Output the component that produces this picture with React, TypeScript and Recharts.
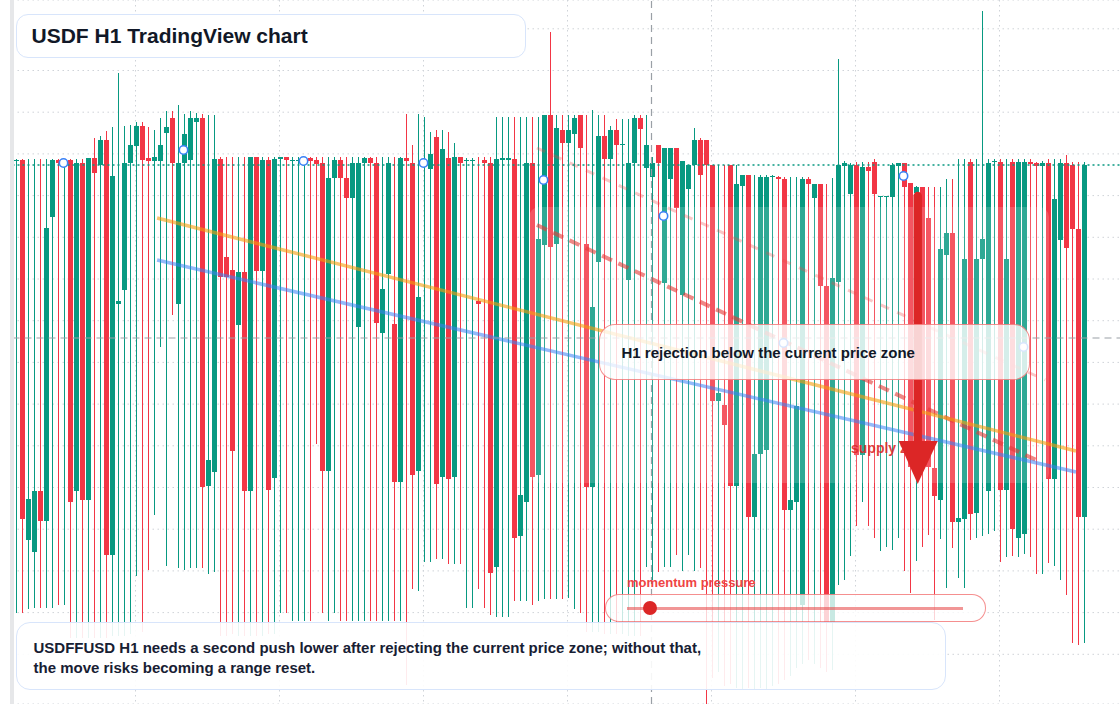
import React from 'react';
import {
  ComposedChart, Bar, Line, XAxis, YAxis, CartesianGrid, ReferenceLine, ReferenceArea
} from 'recharts';

// USDF/USD hourly candles
const OPEN = [
  1.00039, 1.0004, 0.9966, 0.99648, 0.99709, 0.99679, 0.99983, 1.0004, 1.00038, 1.0004,
  0.99709, 1.00037, 0.997, 1.00042, 1.00035, 1.0006, 0.99645, 0.99896, 0.9991, 1.00037,
  1.00054, 1.00074, 1.00042, 1.00039, 1.00039, 1.00067, 1.00082, 0.99896, 1.00037, 1.0004,
  1.00078, 1.00082, 0.99714, 0.99728, 1.00041, 0.99943, 0.9993, 0.99875, 0.99928, 0.99709,
  1.00043, 0.99929, 1.0004, 0.99722, 1.00041, 1.00043, 1.00039, 1.00039, 1.00039, 1.00042,
  1.0004, 1.00037, 0.99729, 1.00022, 1.0004, 1.00022, 1.00002, 0.99873, 1.00037, 1.00042,
  1.00037, 0.99867, 0.99926, 0.99876, 0.99718, 1.00042, 1.00037, 0.99729, 1.00037, 1.00031,
  1.00063, 0.99723, 1.00042, 0.99723, 1.00043, 1.00039, 1.00039, 0.99899, 1.0004, 1.00037,
  0.99633, 1.0004, 1.0004, 1.00041, 0.99664, 0.99698, 1.00037, 0.99725, 0.99955, 1.00085,
  0.99956, 1.0007, 1.00057, 1.00066, 1.00085, 0.99956, 0.99713, 0.99938, 1.00064, 1.00041,
  1.0007, 1.00055, 0.9992, 1.00037, 1.00082, 1.00032, 1.00023, 1.00055, 0.99917, 1.00021,
  1.00052, 0.99905, 1.00011, 1.00035, 1.0006, 1.0006, 1.00035, 0.99799, 0.99795, 1.00035,
  0.99714, 1.00014, 1.00025, 0.99683, 0.99746, 0.9975, 1.00023, 1.00023, 1.00021, 0.9969,
  0.99698, 0.99595, 1.00021, 1.00002, 1.00016, 0.99914, 0.99578, 0.99918, 1.00034, 1.00006,
  1.00035, 0.99745, 1.00033, 1.00038, 1.00003, 1.00003, 1.00003, 1.00034, 1.00037, 1.00017,
  1.00007, 1.00013, 0.99982, 0.99732, 0.997, 0.99945, 0.99967, 0.99678, 0.99681, 1.00038,
  0.99687, 0.99941, 0.99709, 1.00038, 1.00038, 0.9971, 1.00038, 0.99662, 0.99666, 1.00038,
  1.00037, 1.00034, 1.00037, 0.99721, 0.9996, 1.00037, 1.00035, 0.99971, 0.99683,
];

const HIGH = [
  1.00041, 1.00041, 1.00041, 1.00041, 1.00041, 1.00041, 1.00041, 1.00041, 1.00041, 1.00041,
  1.00041, 1.00041, 1.00042, 1.00062, 1.00064, 1.00069, 1.00073, 1.00127, 1.00074, 1.00075,
  1.00078, 1.00078, 1.00073, 1.0007, 1.00082, 1.00089, 1.00089, 1.00095, 1.00086, 1.00089,
  1.00087, 1.00086, 1.00085, 1.00085, 1.00043, 1.00043, 1.00043, 1.00043, 1.00043, 1.00043,
  1.00043, 1.00043, 1.00043, 1.00043, 1.00043, 1.00043, 1.00043, 1.00043, 1.00043, 1.00043,
  1.00043, 1.00043, 1.00043, 1.00043, 1.00043, 1.00043, 1.00043, 1.00043, 1.00043, 1.00043,
  1.00043, 1.00043, 1.00043, 1.00043, 1.00043, 1.00086, 1.00055, 1.00086, 1.00083, 1.00068,
  1.0007, 1.0007, 1.00068, 1.00057, 1.00043, 1.00042, 1.00042, 1.00043, 1.00043, 1.00043,
  1.00083, 1.00083, 1.00083, 1.00083, 1.00083, 1.00083, 1.00083, 1.00083, 1.00085, 1.00168,
  1.00085, 1.00085, 1.00085, 1.00085, 1.00085, 1.00085, 1.0009, 1.00085, 1.00085, 1.00074,
  1.00081, 1.00081, 1.00081, 1.00085, 1.00085, 1.00085, 1.00043, 1.00055, 1.00052, 1.00052,
  1.00052, 1.00039, 1.00035, 1.00072, 1.00062, 1.0006, 1.00035, 1.00035, 1.00035, 1.00035,
  1.00035, 1.00025, 1.00025, 1.00025, 1.00025, 1.00025, 1.00025, 1.00024, 1.00023, 1.00023,
  1.00023, 1.00023, 1.00023, 1.00016, 1.00016, 1.00016, 1.00022, 1.00141, 1.00039, 1.00037,
  1.00038, 1.00038, 1.00038, 1.00041, 1.00004, 1.00004, 1.00037, 1.00037, 1.00037, 1.00017,
  1.00014, 1.00013, 1.00013, 1.00013, 1.00013, 1.00021, 1.00021, 1.00041, 1.00041, 1.00041,
  1.00041, 1.00189, 1.00041, 1.00041, 1.00041, 1.00041, 1.00041, 1.00041, 1.00041, 1.00041,
  1.00038, 1.00039, 1.00041, 1.00041, 1.00041, 1.00045, 1.00038, 1.00038, 1.00038,
];

const LOW = [
  0.99587, 0.99587, 0.99591, 0.99592, 0.99592, 0.99592, 0.99592, 0.99595, 0.99595, 0.99562,
  0.99562, 0.99562, 0.99562, 0.99562, 0.99562, 0.99562, 0.99564, 0.99564, 0.99564, 0.99566,
  0.99624, 0.99568, 0.9963, 0.99685, 0.99853, 0.99634, 0.99885, 0.99632, 0.9963, 0.99632,
  0.99632, 0.99632, 0.99626, 0.99628, 0.99564, 0.99564, 0.99566, 0.99564, 0.99564, 0.99564,
  0.99564, 0.99564, 0.99566, 0.99566, 0.99587, 0.99587, 0.99579, 0.99579, 0.99579, 0.99579,
  0.99756, 0.99587, 0.99579, 0.99587, 0.99579, 0.99579, 0.99579, 0.99579, 0.99579, 0.99579,
  0.99579, 0.99579, 0.99579, 0.99579, 0.99579, 0.99515, 0.99611, 0.99609, 0.99638, 0.99638,
  0.99641, 0.99641, 0.99636, 0.99636, 0.99636, 0.99592, 0.99592, 0.99611, 0.99592, 0.99585,
  0.99583, 0.99583, 0.99583, 0.99599, 0.99599, 0.99599, 0.99595, 0.99599, 0.99601, 0.99601,
  0.99601, 0.99601, 0.99602, 0.99591, 0.99587, 0.99568, 0.99568, 0.99568, 0.99566, 0.99566,
  0.99566, 0.99566, 0.99564, 0.99564, 0.99564, 0.99633, 0.9962, 0.99628, 0.99633, 0.99633,
  0.99645, 0.99629, 0.99645, 0.99629, 0.99632, 0.99488, 0.99522, 0.99528, 0.99514, 0.99516,
  0.99512, 0.9951, 0.99512, 0.9951, 0.99512, 0.9951, 0.99514, 0.99516, 0.9952, 0.99524,
  0.99532, 0.99536, 0.9954, 0.99536, 0.99532, 0.99528, 0.9953, 0.99615, 0.9962, 0.99644,
  0.99674, 0.99698, 0.99674, 0.99662, 0.99649, 0.99653, 0.9965, 0.99662, 0.99629, 0.99607,
  0.99639, 0.99653, 0.99665, 0.9958, 0.99661, 0.99612, 0.99652, 0.99622, 0.99612, 0.9966,
  0.99662, 0.99664, 0.99666, 0.99669, 0.99638, 0.99643, 0.99644, 0.99643, 0.99646, 0.99643,
  0.99626, 0.99626, 0.99637, 0.99634, 0.9962, 0.99605, 0.99557, 0.99555, 0.99557,
];

const CLOSE = [
  1.0004, 0.99681, 0.99701, 0.99709, 0.99679, 0.99972, 1.0004, 1.00037, 1.00039, 0.99698,
  1.00037, 0.997, 1.00042, 1.00027, 1.0006, 0.99645, 1.00024, 0.99899, 1.00037, 1.00055,
  1.00074, 1.0004, 1.00039, 1.00043, 1.00055, 1.00073, 1.00037, 1.00037, 1.00066, 1.00082,
  1.00082, 0.99713, 0.9974, 1.00041, 0.99923, 0.99923, 0.99749, 0.99928, 0.99709, 1.00043,
  0.99929, 1.0004, 0.9971, 1.00041, 1.00043, 1.0004, 1.0004, 1.0004, 1.0004, 1.00039,
  1.00036, 0.99729, 1.00022, 1.0004, 1.00022, 1.00002, 1.00037, 1.00037, 1.00042, 1.00037,
  0.99877, 0.99911, 1.00037, 0.99718, 1.00042, 1.00039, 0.99725, 0.99903, 1.00038, 1.00046,
  0.99716, 1.00051, 0.99721, 1.00043, 1.00037, 1.0004, 1.0004, 0.99896, 1.00037, 0.99627,
  1.00041, 1.00042, 1.00042, 0.99662, 0.99705, 1.00037, 0.99723, 0.99961, 1.00085, 0.99953,
  1.00072, 1.00057, 1.0007, 1.00082, 1.00052, 0.99713, 0.99893, 1.00064, 1.00041, 1.0007,
  1.00055, 1.00056, 1.00037, 1.00082, 1.00071, 1.00055, 1.00037, 1.00037, 1.00052, 1.00052,
  0.99992, 1.00039, 1.00035, 1.0006, 1.00025, 1.00035, 0.99799, 0.99807, 0.99775, 0.99714,
  1.00016, 1.00025, 0.99683, 0.99746, 1.00023, 1.00023, 1.00024, 1.00021, 0.9969, 0.997,
  0.99794, 1.00021, 1.00016, 1.00016, 0.99914, 0.99578, 0.99922, 1.00035, 1.00037, 1.00035,
  0.99745, 1.00033, 1.00029, 1.00006, 1.00004, 1.00004, 1.00035, 1.00037, 1.00013, 0.99733,
  1.00013, 0.99736, 0.99733, 0.99704, 0.99951, 0.99967, 0.99678, 0.99682, 0.99941, 0.99686,
  0.99941, 0.99961, 1.00037, 1.00039, 0.9971, 0.99941, 0.99671, 1.00038, 1.00038, 1.00036,
  1.00034, 1.00037, 0.99721, 1.00001, 1.00037, 0.99952, 0.99971, 0.99683, 1.00035,
];

// empty hourly slots to the right of the last candle
const RIGHT_SLOTS = 6;
const START_UTC = Date.UTC(2024, 4, 6, 0);

// blue ring markers
const MARKER_BARS = [8, 28, 48, 68, 88, 108, 128, 148, 168];
const MARKER_PRICES = [1.00037, 1.0005, 1.00039, 1.00037, 1.0002, 0.99984, 0.99857, 1.00024, 0.99853];

// drawn levels: [bar, price] start and end
const TREND_ORANGE = [[23.6, 0.99982], [176.75, 0.99749]];
const TREND_BLUE = [[23.6, 0.9994], [176.75, 0.99728]];
const CHANNEL_SOLID = [[86.9, 0.99975], [170.1, 0.9974]];
const CHANNEL_FAINT = [[86.9, 1.00052], [171.6, 0.9982]];
const ZONE_BARS = [85.6, 172.25];
const ZONE_PRICES = [0.99717, 0.99993];
const CROSS_BAR = 106;
const CROSS_PRICE = 0.99862;

const GRID_BARS = [20, 44, 68, 92, 116, 140, 164];
const PRICE_TICKS = [
  0.99504, 0.995457, 0.995874, 0.996291, 0.996708, 0.997125, 0.997542, 0.997959, 0.998376,
  0.998793, 0.99921, 0.999627, 1.000044, 1.000461, 1.000878, 1.001295, 1.001712,
];
const PRICE_DOMAIN = [0.99496, 1.002];

const GREEN = '#089981';
const RED = '#f23645';
const FONT = '"Liberation Sans", Arial, Helvetica, sans-serif';

const rows = Array.from({ length: OPEN.length + RIGHT_SLOTS }, (_, i) => {
  const d = new Date(START_UTC + i * 3600000).toISOString();
  const m = MARKER_BARS.indexOf(i);
  return {
    idx: i,
    time: d.slice(5, 10) + ' ' + d.slice(11, 16),
    open: OPEN[i], high: HIGH[i], low: LOW[i], close: CLOSE[i],
    marker: m >= 0 ? MARKER_PRICES[m] : null,
  };
});

const Candle = (props: any) => {
  const { x, y, width, height, payload } = props;
  if (payload == null || payload.open == null) return null;
  const top = Math.min(y, y + height);
  const span = Math.abs(height);
  const { open, high, low, close } = payload;
  const toY = (p: number) => top + ((high - p) / (high - low)) * span;
  const color = close >= open ? GREEN : RED;
  // snap to the pixel grid so 1px wicks stay crisp
  const cx = Math.round(x + width / 2 - 0.5) + 0.5;
  const bodyTop = toY(Math.max(open, close));
  const bodyH = Math.max(1, toY(Math.min(open, close)) - bodyTop);
  return (
    <g shapeRendering="crispEdges">
      <line x1={cx} x2={cx} y1={top} y2={top + span} stroke={color} strokeWidth={1} />
      <rect x={cx - 2.5} y={bodyTop} width={5} height={bodyH} fill={color} />
    </g>
  );
};

const seg = (s: number[][]) => s.map(([x, y]) => ({ x, y }));

export default function App() {
  return (
    <div style={{ position: 'fixed', left: 0, top: 0, width: 1120, height: 704, overflow: 'hidden', background: '#fff', fontFamily: FONT }}>
      <ComposedChart width={1123} height={704} data={rows} margin={{ top: 0, right: 0.5, bottom: 0, left: 12.5 }}>
        <XAxis xAxisId="t" dataKey="time" hide />
        <XAxis xAxisId="n" dataKey="idx" type="number" domain={[-0.5, rows.length - 0.5]} ticks={GRID_BARS} hide allowDataOverflow />
        <YAxis yAxisId="p" type="number" domain={PRICE_DOMAIN} ticks={PRICE_TICKS} hide allowDataOverflow />
        <CartesianGrid xAxisId="n" yAxisId="p" stroke="#cfd3d8" strokeDasharray="1.5 3.5" />
        <Bar
          xAxisId="t" yAxisId="p"
          dataKey={(d: any) => (d.open == null ? null : [d.low, d.high])}
          barSize={5}
          shape={(p: any) => <Candle {...p} />}
          isAnimationActive={false}
        />
        <ReferenceArea
          xAxisId="n" yAxisId="p"
          x1={ZONE_BARS[0]} x2={ZONE_BARS[1]} y1={ZONE_PRICES[0]} y2={ZONE_PRICES[1]}
          fill="#ffffff" fillOpacity={0.16} stroke="none" radius={10} zIndex={350}
        />
        <ReferenceLine xAxisId="n" yAxisId="p" segment={seg(CHANNEL_FAINT)} stroke="#ef4444" strokeOpacity={0.3} strokeWidth={3} strokeDasharray="9 9" zIndex={450} />
        <ReferenceLine xAxisId="n" yAxisId="p" segment={seg(CHANNEL_SOLID)} stroke="#e53935" strokeOpacity={0.6} strokeWidth={4} strokeDasharray="11 7" zIndex={450} />
        <ReferenceLine xAxisId="n" yAxisId="p" segment={seg(TREND_ORANGE)} stroke="#f59e0b" strokeOpacity={0.6} strokeWidth={3.5} zIndex={450} />
        <ReferenceLine xAxisId="n" yAxisId="p" segment={seg(TREND_BLUE)} stroke="#3b82f6" strokeOpacity={0.55} strokeWidth={3.5} zIndex={450} />
        <ReferenceLine xAxisId="n" yAxisId="p" y={CROSS_PRICE} stroke="#9aa0a6" strokeWidth={1.2} strokeDasharray="7 5" zIndex={460} />
        <ReferenceLine xAxisId="n" yAxisId="p" x={CROSS_BAR} stroke="#9aa0a6" strokeWidth={1.2} strokeDasharray="7 5" zIndex={460} />
        <ReferenceLine xAxisId="n" yAxisId="p" y={CLOSE[CLOSE.length - 1]} stroke={GREEN} strokeWidth={1.3} strokeDasharray="2 3" zIndex={460} />
        <Line
          xAxisId="t" yAxisId="p" dataKey="marker" stroke="none" connectNulls={false}
          dot={{ r: 4.2, stroke: '#3b82f6', strokeWidth: 1.6, fill: '#ffffff' }}
          activeDot={false} isAnimationActive={false}
        />
      </ComposedChart>

      <div style={{ position: 'absolute', left: 10, top: 0, width: 4, height: 704, background: '#e6e7e9' }} />

      <div style={{ position: 'absolute', left: 851, top: 441, fontSize: 14, lineHeight: '14px', fontWeight: 700, color: 'rgba(220,38,38,0.9)', whiteSpace: 'nowrap' }}>
        supply zone
      </div>

      <svg width={1120} height={704} style={{ position: 'absolute', left: 0, top: 0, pointerEvents: 'none' }}>
        <line x1={917.7} y1={196} x2={917.7} y2={446} stroke="#dc2626" strokeWidth={8.5} strokeLinecap="round" />
        <polygon points="898.7,441 937.7,441 917.7,484" fill="#dc2626" />
      </svg>

      <div style={{
        position: 'absolute', left: 599, top: 324, width: 431, height: 56, boxSizing: 'border-box',
        border: '1.5px solid rgba(239,68,68,0.6)', borderRadius: 16, background: 'rgba(255,255,255,0.8)',
        display: 'flex', alignItems: 'center', paddingLeft: 21.5,
        fontSize: 15, fontWeight: 700, color: '#111827', whiteSpace: 'nowrap',
      }}>
        H1 rejection below the current price zone
      </div>

      <div style={{ position: 'absolute', left: 627, top: 576, fontSize: 13, lineHeight: '13px', fontWeight: 700, color: '#ef4444', whiteSpace: 'nowrap' }}>
        momentum pressure
      </div>
      <div style={{
        position: 'absolute', left: 605, top: 594, width: 381, height: 28, boxSizing: 'border-box',
        border: '1.5px solid rgba(239,68,68,0.6)', borderRadius: 14, background: 'rgba(255,255,255,0.78)',
      }}>
        <div style={{ position: 'absolute', left: 20.5, top: 11.5, width: 336, height: 3, background: 'rgba(232,80,80,0.6)' }} />
        <div style={{ position: 'absolute', left: 36.5, top: 5.5, width: 14, height: 14, borderRadius: 7, background: '#dc2626' }} />
      </div>

      <div style={{
        position: 'absolute', left: 16, top: 622, width: 930, height: 68, boxSizing: 'border-box',
        border: '1.5px solid #d8e5fb', borderRadius: 14, background: 'rgba(255,255,255,0.9)',
        paddingLeft: 16.5, paddingTop: 14.5, fontSize: 15, lineHeight: '20px', fontWeight: 700, color: '#172033',
      }}>
        USDFFUSD H1 needs a second push lower after rejecting the current price zone; without that,<br />
        the move risks becoming a range reset.
      </div>

      <div style={{
        position: 'absolute', left: 16, top: 14, width: 510, height: 44, boxSizing: 'border-box',
        border: '1.5px solid #d8e5fb', borderRadius: 12, background: '#ffffff',
        display: 'flex', alignItems: 'center', paddingLeft: 14.5,
        fontSize: 21, fontWeight: 700, color: '#111827', whiteSpace: 'nowrap',
      }}>
        USDF H1 TradingView chart
      </div>
    </div>
  );
}
